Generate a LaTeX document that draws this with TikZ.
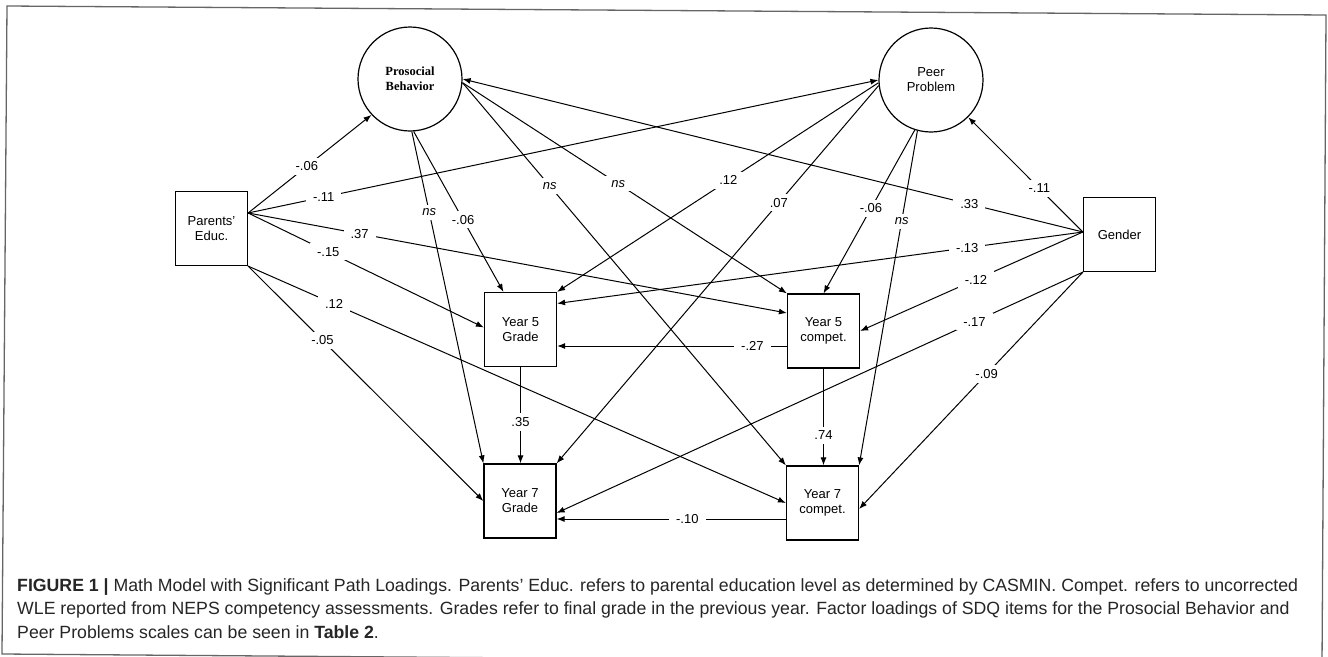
\documentclass[tikz,border=0pt]{standalone}
\usepackage{fontspec}
\setmainfont{Liberation Sans}
\newfontfamily\serifb{Liberation Serif}
\usetikzlibrary{arrows.meta,calc}
\begin{document}
\begin{tikzpicture}[x=1pt,y=-1pt,
  every node/.style={font=\fontsize{13}{15}\selectfont},
  box/.style={draw, line width=1.2pt, minimum width=72pt, minimum height=74pt, inner sep=0pt, align=center},
  latent/.style={draw, circle, line width=1.2pt, minimum size=104pt, inner sep=0pt, align=center},
  arr/.style={line width=1pt, -{Latex[length=8pt,width=6pt]}},
  lab/.style={fill=white, inner xsep=7pt, inner ysep=4pt},
  nsl/.style={lab, font=\fontsize{13}{15}\selectfont\itshape},
  capt/.style={anchor=base west, inner sep=0pt, text=black!85, font=\fontsize{17.7}{20}\selectfont},
]
\useasboundingbox (0,0) rectangle (1328,656);
\fill[white] (0,0) rectangle (1328,656);
\clip (0,0) rectangle (1328,656);
\draw[black!60, line width=1.3pt] (7,6) -- (1326,15) -- (1322,664) -- (2,654) -- cycle;

% nodes
\node[latent, font=\serifb\bfseries\fontsize{12.5}{15}\selectfont] (PB) at (410,79) {Prosocial\\Behavior};
\node[latent] (PP) at (931,80) {Peer\\Problem};
\node[box] (PE) at (211.5,228.5) {Parents'\\Educ.};
\node[box] (G) at (1119.5,234.5) {Gender};
\node[box] (Y5G) at (520.5,329.5) {Year 5\\Grade};
\node[box] (Y5C) at (823.5,331) {Year 5\\compet.};
\node[box] (Y7G) at (520,501) {Year 7\\Grade};
\node[box] (Y7C) at (822.5,503) {Year 7\\compet.};

\coordinate (PEo) at ([yshift=15.5pt]PE.east);
\coordinate (Go) at ([yshift=2.5pt]G.west);

% Parents' Educ.
\draw[arr] (PEo) -- node[lab,pos=.476]{-.06} (PB.223);
\draw[arr] (PEo) -- node[lab,pos=.12]{-.11} (PP.west);
\draw[arr] (PEo) -- node[lab,pos=.207]{.37} ([yshift=18pt]Y5C.west);
\draw[arr] (PEo) -- node[lab,pos=.34]{-.15} ([yshift=2pt]Y5G.west);
\draw[arr] (PE.south east) -- node[lab,pos=.16]{.12} (Y7C.west);
\draw[arr] (PE.south east) -- node[lab,pos=.316]{-.05} (Y7G.west);

% Prosocial Behavior
\draw[arr] (PB.272) -- node[nsl,pos=.243]{ns} (Y7G.north west);
\draw[arr] (PB.274) -- node[lab,pos=.55]{-.06} ([xshift=-17pt]Y5G.north);
\draw[arr] (PB.-4) -- node[nsl,pos=.48]{ns} (Y5C.north west);
\draw[arr] (PB.-4) -- node[nsl,pos=.27]{ns} (Y7C.north west);

% Peer Problem
\draw[arr] (PP.183) -- node[lab,pos=.467]{.12} (Y5G.north east);
\draw[arr] (PP.186) -- node[lab,pos=.31]{.07} (Y7G.north east);
\draw[arr] (PP.252) -- node[lab,pos=.48]{-.06} (Y5C.north);
\draw[arr] (PP.255) -- node[nsl,pos=.27]{ns} (Y7C.north east);

% Gender
\draw[arr] (Go) -- node[lab,pos=.38]{-.11} (PP.315);
\draw[arr] (Go) -- node[lab,pos=.183]{.33} (PB.east);
\draw[arr] (Go) -- node[lab,pos=.22]{-.13} ([yshift=26pt]Y5G.east);
\draw[arr] (Go) -- node[lab,pos=.48]{-.12} (Y5C.east);
\draw[arr] (G.south west) -- node[lab,pos=.206]{-.17} ([yshift=-12pt]Y7G.east);
\draw[arr] (G.south west) -- node[lab,pos=.43]{-.09} ([yshift=-6pt]Y7C.east);

% between outcomes
\draw[arr] ([yshift=-15pt]Y5C.west) coordinate (a27) -- node[lab,pos=.15]{-.27} (a27 -| Y5G.east);
\draw[arr] (Y5G.south) -- node[lab,pos=.57]{.35} (Y5G.south |- Y7G.north);
\draw[arr] (Y5C.south) -- node[lab,pos=.69]{.74} (Y5C.south |- Y7C.north);
\draw[arr] ([yshift=-16pt]Y7C.west) coordinate (a10) -- node[lab,pos=.43]{-.10} (a10 -| Y7G.east);

% caption
\node[capt] (cap1) at (17,591) {\textbf{FIGURE 1 |} Math Model with Significant Path Loadings. Parents' Educ. refers to parental education level as determined by CASMIN. Compet. refers to uncorrected};
\node[capt] (cap2) at (17,614) {WLE reported from NEPS competency assessments. Grades refer to final grade in the previous year. Factor loadings of SDQ items for the Prosocial Behavior and};
\node[capt] (cap3) at (17,638) {Peer Problems scales can be seen in \textbf{Table 2}.};
\end{tikzpicture}
\end{document}
